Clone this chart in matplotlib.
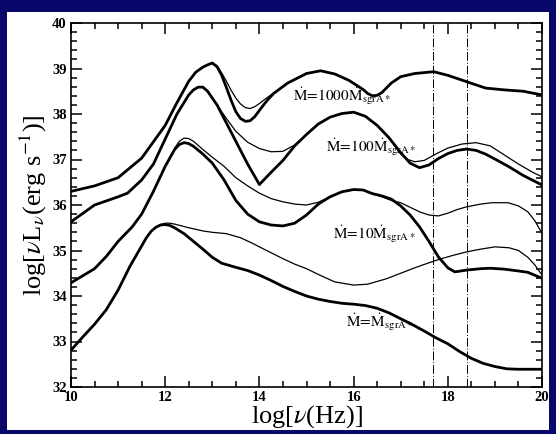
import matplotlib
matplotlib.use('Agg')
import matplotlib.pyplot as plt
from matplotlib.patches import Rectangle
from matplotlib.ticker import MultipleLocator

plt.rcParams['font.family'] = ['Liberation Serif', 'DejaVu Serif']
plt.rcParams['mathtext.fontset'] = 'stix'

# ---------------------------------------------------------------------------
# DATA: log nu [Hz] vs log nuL_nu [erg/s]
# ---------------------------------------------------------------------------
# Mdot = 1000 Mdot_sgrA*
x_1000_thick = [10.0, 10.5, 11.0, 11.5, 12.0, 12.25, 12.5, 12.65, 12.8, 12.9, 13.0, 13.1,
                13.2, 13.3, 13.4, 13.5, 13.6, 13.7, 13.8, 13.9, 14.0, 14.15, 14.3, 14.6,
                15.0, 15.3, 15.6, 15.9, 16.2, 16.3, 16.4, 16.5, 16.6, 16.8, 17.0, 17.3,
                17.7, 18.0, 18.4, 18.8, 19.2, 19.6, 20.0]
y_1000_thick = [36.30, 36.42, 36.60, 37.03, 37.75, 38.25, 38.72, 38.92, 39.03, 39.08, 39.12, 39.04,
                38.85, 38.58, 38.30, 38.05, 37.90, 37.84, 37.85, 37.94, 38.08, 38.28, 38.45, 38.68,
                38.89, 38.95, 38.88, 38.74, 38.54, 38.45, 38.40, 38.41, 38.47, 38.68, 38.82, 38.89,
                38.93, 38.85, 38.71, 38.57, 38.53, 38.50, 38.42]
x_1000_thin = [12.9, 13.0, 13.1, 13.2, 13.3, 13.4, 13.5, 13.6, 13.7, 13.8, 13.9, 14.0,
               14.15, 14.3, 14.6, 15.0]
y_1000_thin = [39.08, 39.12, 39.06, 38.90, 38.72, 38.52, 38.35, 38.22, 38.14, 38.12, 38.16, 38.23,
               38.35, 38.46, 38.68, 38.89]

# Mdot = 100 Mdot_sgrA*
x_100_thick = [10.0, 10.5, 11.0, 11.2, 11.5, 11.75, 12.0, 12.25, 12.5, 12.6, 12.7, 12.8,
               12.9, 13.1, 13.3, 13.5, 13.75, 14.0, 14.25, 14.5, 14.75, 15.0, 15.25, 15.5,
               15.75, 16.0, 16.25, 16.5, 16.75, 17.0, 17.2, 17.4, 17.6, 17.8, 18.0, 18.2,
               18.4, 18.6, 18.8, 19.0, 19.3, 19.6, 20.0]
y_100_thick = [35.63, 36.00, 36.18, 36.26, 36.55, 36.90, 37.45, 38.00, 38.42, 38.53, 38.59, 38.59,
               38.50, 38.20, 37.80, 37.40, 36.90, 36.45, 36.72, 36.98, 37.30, 37.55, 37.78, 37.93,
               38.01, 38.04, 37.95, 37.75, 37.48, 37.15, 36.92, 36.82, 36.88, 37.02, 37.13, 37.20,
               37.23, 37.20, 37.12, 37.01, 36.84, 36.65, 36.44]
x_100_thin = [12.9, 13.1, 13.3, 13.5, 13.75, 14.0, 14.25, 14.5, 14.75, 15.0, 15.25, 15.5,
              15.75, 16.0, 16.25, 16.5, 16.75, 17.0, 17.15, 17.3, 17.5, 17.8, 18.0, 18.3, 18.6,
              18.9, 19.2, 19.5, 19.8, 20.0]
y_100_thin = [38.50, 38.20, 37.90, 37.62, 37.38, 37.24, 37.17, 37.18, 37.32, 37.55, 37.78, 37.93,
              38.01, 38.04, 37.95, 37.75, 37.48, 37.12, 37.00, 36.95, 36.98, 37.15, 37.25, 37.34, 37.37,
              37.30, 37.10, 36.90, 36.72, 36.62]

# Mdot = 10 Mdot_sgrA*
x_10_thick = [10.0, 10.5, 10.75, 11.0, 11.3, 11.5, 11.75, 12.0, 12.2, 12.3, 12.4, 12.5, 12.6,
              12.8, 13.0, 13.25, 13.5, 13.75, 14.0, 14.25, 14.5, 14.75, 15.0, 15.25, 15.5,
              15.75, 16.0, 16.2, 16.4, 16.6, 16.8, 17.0, 17.2, 17.4, 17.6, 17.8, 18.0, 18.15,
              18.4, 18.7, 18.9, 19.2, 19.5, 19.7, 20.0]
y_10_thick = [34.29, 34.60, 34.87, 35.20, 35.52, 35.80, 36.30, 36.85, 37.22, 37.33, 37.37, 37.35, 37.29,
              37.12, 36.92, 36.55, 36.10, 35.80, 35.63, 35.56, 35.54, 35.60, 35.78, 36.02, 36.18,
              36.29, 36.34, 36.33, 36.25, 36.20, 36.13, 35.98, 35.78, 35.52, 35.20, 34.86, 34.62, 34.53,
              34.57, 34.60, 34.61, 34.59, 34.55, 34.52, 34.39]
x_10_thin = [12.2, 12.3, 12.4, 12.5, 12.6, 12.8, 13.0, 13.25, 13.5, 13.75, 14.0, 14.25, 14.5,
             14.75, 15.0, 15.25, 15.5, 15.75, 16.0, 16.2, 16.4, 16.6, 16.8, 17.0, 17.2, 17.4,
             17.6, 17.8, 18.0, 18.2, 18.4, 18.7, 18.93, 19.28, 19.5, 19.7, 19.85, 20.0]
y_10_thin = [37.25, 37.40, 37.47, 37.46, 37.40, 37.22, 37.05, 36.85, 36.60, 36.42, 36.26, 36.14, 36.07,
             36.02, 36.00, 36.06, 36.18, 36.29, 36.34, 36.33, 36.25, 36.18, 36.10, 36.05, 35.95, 35.85,
             35.78, 35.76, 35.82, 35.90, 35.96, 36.02, 36.05, 36.05, 35.98, 35.85, 35.65, 35.38]

# Mdot = Mdot_sgrA*
x_1_thick = [10.0, 10.25, 10.5, 10.75, 11.0, 11.25, 11.5, 11.6, 11.7, 11.8, 11.9, 12.0,
             12.1, 12.2, 12.4, 12.6, 12.8, 13.0, 13.2, 13.5, 13.75, 14.0, 14.25, 14.5,
             14.75, 15.0, 15.25, 15.5, 15.75, 16.0, 16.25, 16.5, 16.75, 17.0, 17.25, 17.5,
             17.75, 18.0, 18.25, 18.5, 18.75, 19.0, 19.25, 19.5, 20.0]
y_1_thick = [32.81, 33.10, 33.38, 33.70, 34.13, 34.65, 35.10, 35.28, 35.42, 35.51, 35.56, 35.57,
             35.55, 35.50, 35.37, 35.20, 35.03, 34.85, 34.72, 34.63, 34.56, 34.46, 34.34, 34.21,
             34.10, 34.00, 33.93, 33.88, 33.84, 33.82, 33.79, 33.73, 33.63, 33.50, 33.37, 33.23,
             33.08, 32.95, 32.78, 32.63, 32.52, 32.45, 32.40, 32.39, 32.39]
x_1_thin = [11.8, 11.9, 12.0, 12.1, 12.2, 12.5, 12.8, 13.0, 13.3, 13.6, 13.85, 14.0, 14.25, 14.5,
            14.75, 15.0, 15.3, 15.6, 16.0, 16.3, 16.7, 17.0, 17.3, 17.6, 17.8, 18.1,
            18.4, 18.7, 19.0, 19.3, 19.5, 19.7, 19.85, 20.0]
y_1_thin = [35.51, 35.57, 35.60, 35.60, 35.58, 35.50, 35.43, 35.40, 35.37, 35.28, 35.16, 35.08, 34.95, 34.82,
            34.70, 34.60, 34.45, 34.31, 34.24, 34.26, 34.38, 34.50, 34.62, 34.73, 34.80, 34.89,
            34.97, 35.03, 35.08, 35.06, 35.00, 34.85, 34.68, 34.46]

vlines_x = [17.68, 18.40]

labels = [r'$\dot{\mathrm{M}}\!=\!\mathrm{1000}\dot{\mathrm{M}}_{\mathrm{sgrA*}}$',
          r'$\dot{\mathrm{M}}\!=\!\mathrm{100}\dot{\mathrm{M}}_{\mathrm{sgrA*}}$',
          r'$\dot{\mathrm{M}}\!=\!\mathrm{10}\dot{\mathrm{M}}_{\mathrm{sgrA*}}$',
          r'$\dot{\mathrm{M}}\!=\!\dot{\mathrm{M}}_{\mathrm{sgrA*}}$']
label_xy = [(14.72, 38.29), (15.41, 37.17), (15.56, 35.25), (15.84, 33.32)]

# ---------------------------------------------------------------------------
# FIGURE
# ---------------------------------------------------------------------------
W, H = 556, 434
fig = plt.figure(figsize=(W / 100, H / 100), dpi=100)
fig.patch.set_facecolor('#08086a')
fig.patches.append(Rectangle((7 / W, 1 - 430 / H), (549 - 7) / W, (430 - 12) / H,
                             transform=fig.transFigure, facecolor='white',
                             edgecolor='none', zorder=-10))

ax = fig.add_axes([71 / W, 1 - 387 / H, (542 - 71) / W, (387 - 23) / H])
ax.set_facecolor('white')

thick = dict(color='black', lw=2.0, solid_capstyle='round', solid_joinstyle='round')
thin = dict(color='black', lw=0.9, solid_joinstyle='round')

ax.plot(x_1000_thick, y_1000_thick, **thick)
ax.plot(x_1000_thin, y_1000_thin, **thin)
ax.plot(x_100_thick, y_100_thick, **thick)
ax.plot(x_100_thin, y_100_thin, **thin)
ax.plot(x_10_thick, y_10_thick, **thick)
ax.plot(x_10_thin, y_10_thin, **thin)
ax.plot(x_1_thick, y_1_thick, **thick)
ax.plot(x_1_thin, y_1_thin, **thin)

for xv in vlines_x:
    ax.axvline(xv, color='black', lw=0.7, ls=(0, (9, 2, 1, 2)))

for txt, (tx, ty) in zip(labels, label_xy):
    ax.text(tx, ty, txt, fontsize=11, ha='left', va='baseline')

ax.set_xlim(10, 20)
ax.set_ylim(32, 40)
ax.xaxis.set_major_locator(MultipleLocator(2))
ax.xaxis.set_minor_locator(MultipleLocator(0.5))
ax.yaxis.set_major_locator(MultipleLocator(1))
ax.yaxis.set_minor_locator(MultipleLocator(0.2))
ax.tick_params(which='both', direction='in', top=True, right=True, width=1.1)
ax.tick_params(which='major', length=8, labelsize=10.5, pad=3)
ax.tick_params(which='minor', length=4.5)
for lab in ax.get_xticklabels() + ax.get_yticklabels():
    lab.set_fontweight('bold')
for sp in ax.spines.values():
    sp.set_linewidth(1.2)

ax.set_xlabel(r'log[$\nu$(Hz)]', fontsize=19, labelpad=-1)
ax.set_ylabel(r'log[$\nu$L$_\nu$(erg s$^{-1}$)]', fontsize=19, labelpad=2)

fig.savefig('out.png', dpi=100, facecolor=fig.get_facecolor())
